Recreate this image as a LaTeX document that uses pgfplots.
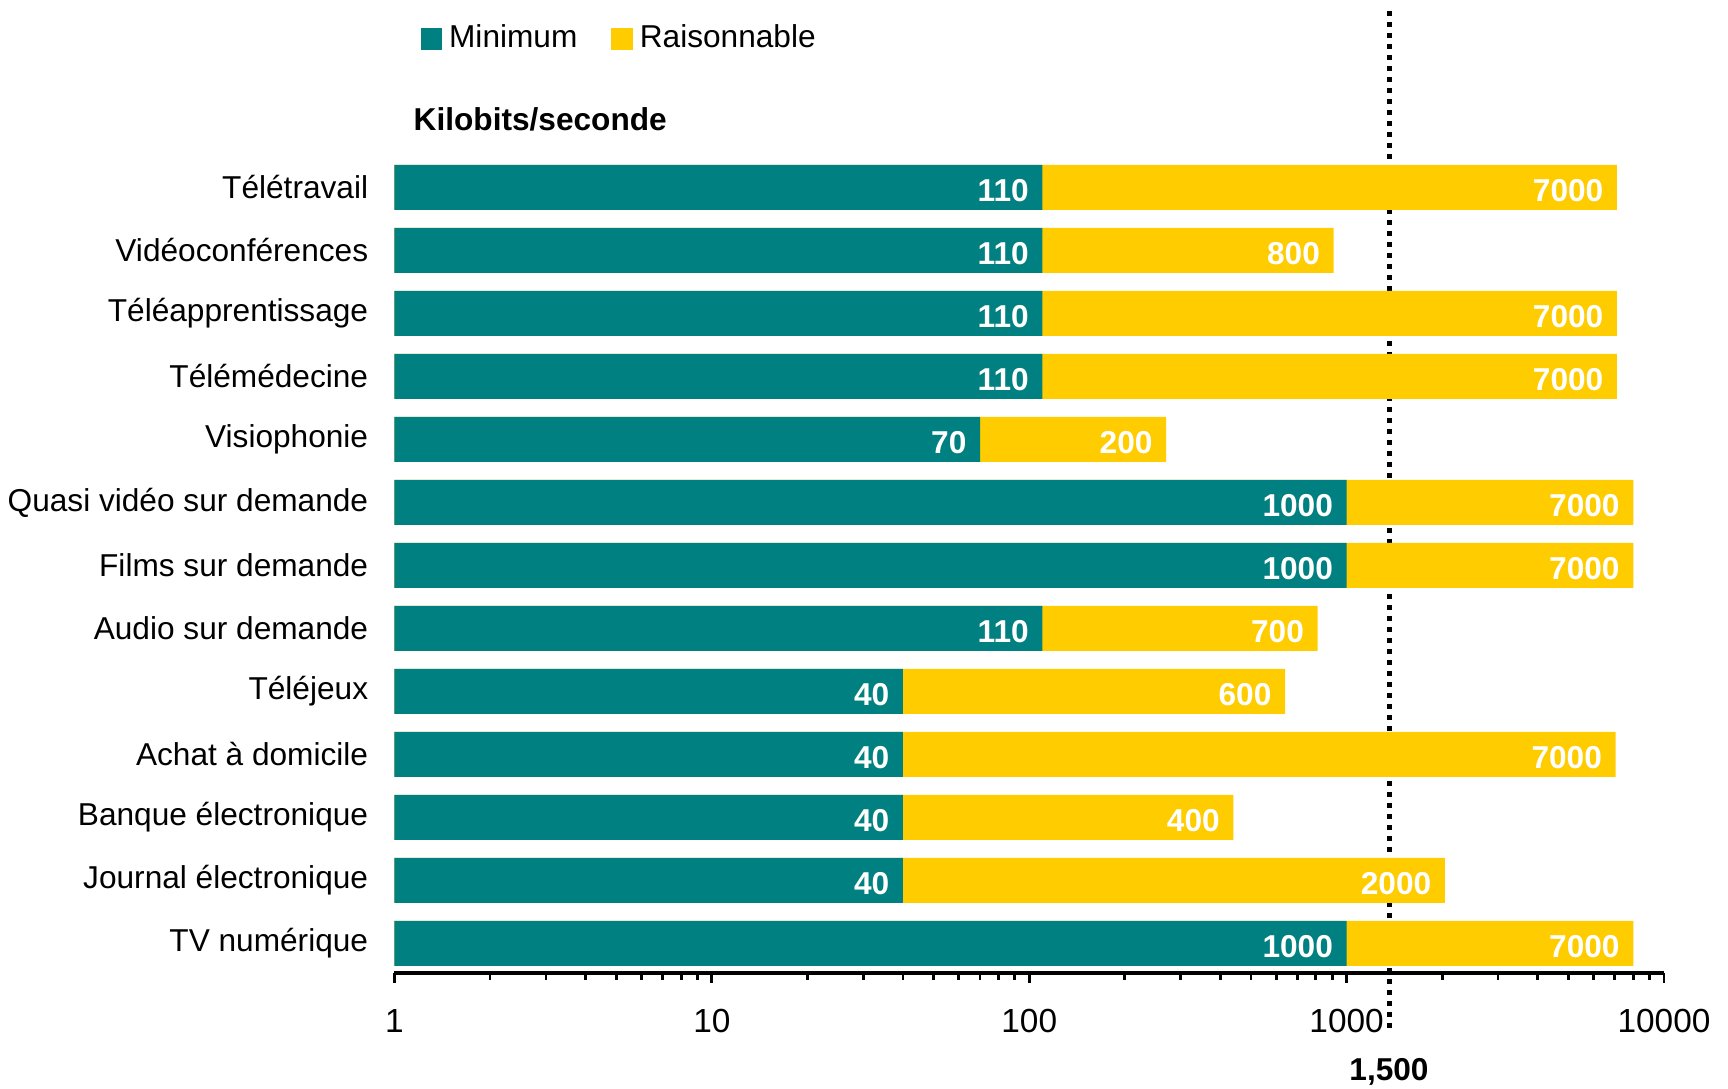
\documentclass[border=0pt]{standalone}
\usepackage{pgfplots}
\pgfplotsset{compat=1.18}
\usepackage{pgfplotstable}
\usepackage{fontspec}
\setmainfont{Liberation Sans}
\definecolor{myteal}{HTML}{008080}
\definecolor{myyellow}{HTML}{FFCC00}

\pgfplotstableread{
y mini rais
0 1000 7000
1 40 2000
2 40 400
3 40 7000
4 40 600
5 110 700
6 1000 7000
7 1000 7000
8 70 200
9 110 7000
10 110 7000
11 110 800
12 110 7000
}\datatable

\begin{document}
\begin{tikzpicture}
\begin{axis}[
  at={(0,0)}, anchor=south west,
  scale only axis, width=12.695cm, height=8.17cm,
  set layers=standard, clip=false,
  xmode=log, xmin=1, xmax=10000, ymin=-0.47, ymax=12.5,
  xbar, bar width=0.45cm,
  axis x line*=bottom, axis y line*=left,
  y axis line style={draw=none},
  x axis line style={line width=0.9pt},
  ytick={0,...,12},
  yticklabels={TV numérique, Journal électronique, Banque électronique, Achat à domicile, Téléjeux, Audio sur demande, Films sur demande, Quasi vidéo sur demande, Visiophonie, Télémédecine, Téléapprentissage, Vidéoconférences, Télétravail},
  ytick style={draw=none},
  yticklabel style={font=\fontsize{9}{10}\selectfont, xshift=-0.04cm},
  xtick={1,10,100,1000,10000},
  xticklabels={1,10,100,1000,10000},
  minor xtick={2,3,4,5,6,7,8,9,20,30,40,50,60,70,80,90,200,300,400,500,600,700,800,900,2000,3000,4000,5000,6000,7000,8000,9000},
  tick align=outside,
  major tick length=0.1cm, minor tick length=0.07cm,
  x tick style={line width=0.8pt, black},
  xticklabel style={font=\fontsize{9.5}{10}\selectfont, yshift=-0.14cm},
  /pgf/number format/assume math mode=true,
  legend style={at={(axis description cs:0,1)}, anchor=west, xshift=0.255cm, yshift=1.17cm,
    draw=none, inner sep=0pt, font=\fontsize{9}{10}\selectfont,
    legend columns=2,
    /tikz/every even column/.append style={column sep=0.27cm}},
  legend image code/.code={\fill[#1] (0cm,-0.1cm) rectangle (0.2cm,0.1cm);},
  every node near coord/.append style={anchor=east, inner sep=0pt, xshift=-0.13cm, yshift=-0.03cm,
    text=white, font=\bfseries\fontsize{9}{10}\selectfont},
]
\addlegendimage{myteal}
\addlegendentry{Minimum}
\addlegendimage{myyellow}
\addlegendentry{Raisonnable}

\draw[on layer=axis background, line width=0.05cm, dash pattern=on 0.05cm off 0.06cm]
  ([yshift=1.45cm]axis cs:1360,12.5) -- ([yshift=-0.6cm]axis cs:1360,-0.47);

\addplot[fill=myyellow, draw=none, bar shift=0pt, forget plot,
  nodes near coords, point meta=explicit symbolic]
  table[x expr=\thisrow{mini}+\thisrow{rais}, y=y, meta=rais] {\datatable};
\addplot[fill=myteal, draw=none, bar shift=0pt, forget plot,
  nodes near coords, point meta=explicit symbolic]
  table[x=mini, y=y, meta=mini] {\datatable};

\node[anchor=west, inner sep=0pt, font=\bfseries\fontsize{9}{10}\selectfont]
  at ([xshift=0.185cm, yshift=0.37cm]axis description cs:0,1) {Kilobits/seconde};
\node[inner sep=0pt, font=\bfseries\fontsize{9}{10}\selectfont]
  at ([yshift=-0.99cm]axis cs:1360,-0.47) {1,500};
\end{axis}
\pgfresetboundingbox
\path (-3.945,-1.16) rectangle (13.335,9.73);
\end{tikzpicture}
\end{document}
